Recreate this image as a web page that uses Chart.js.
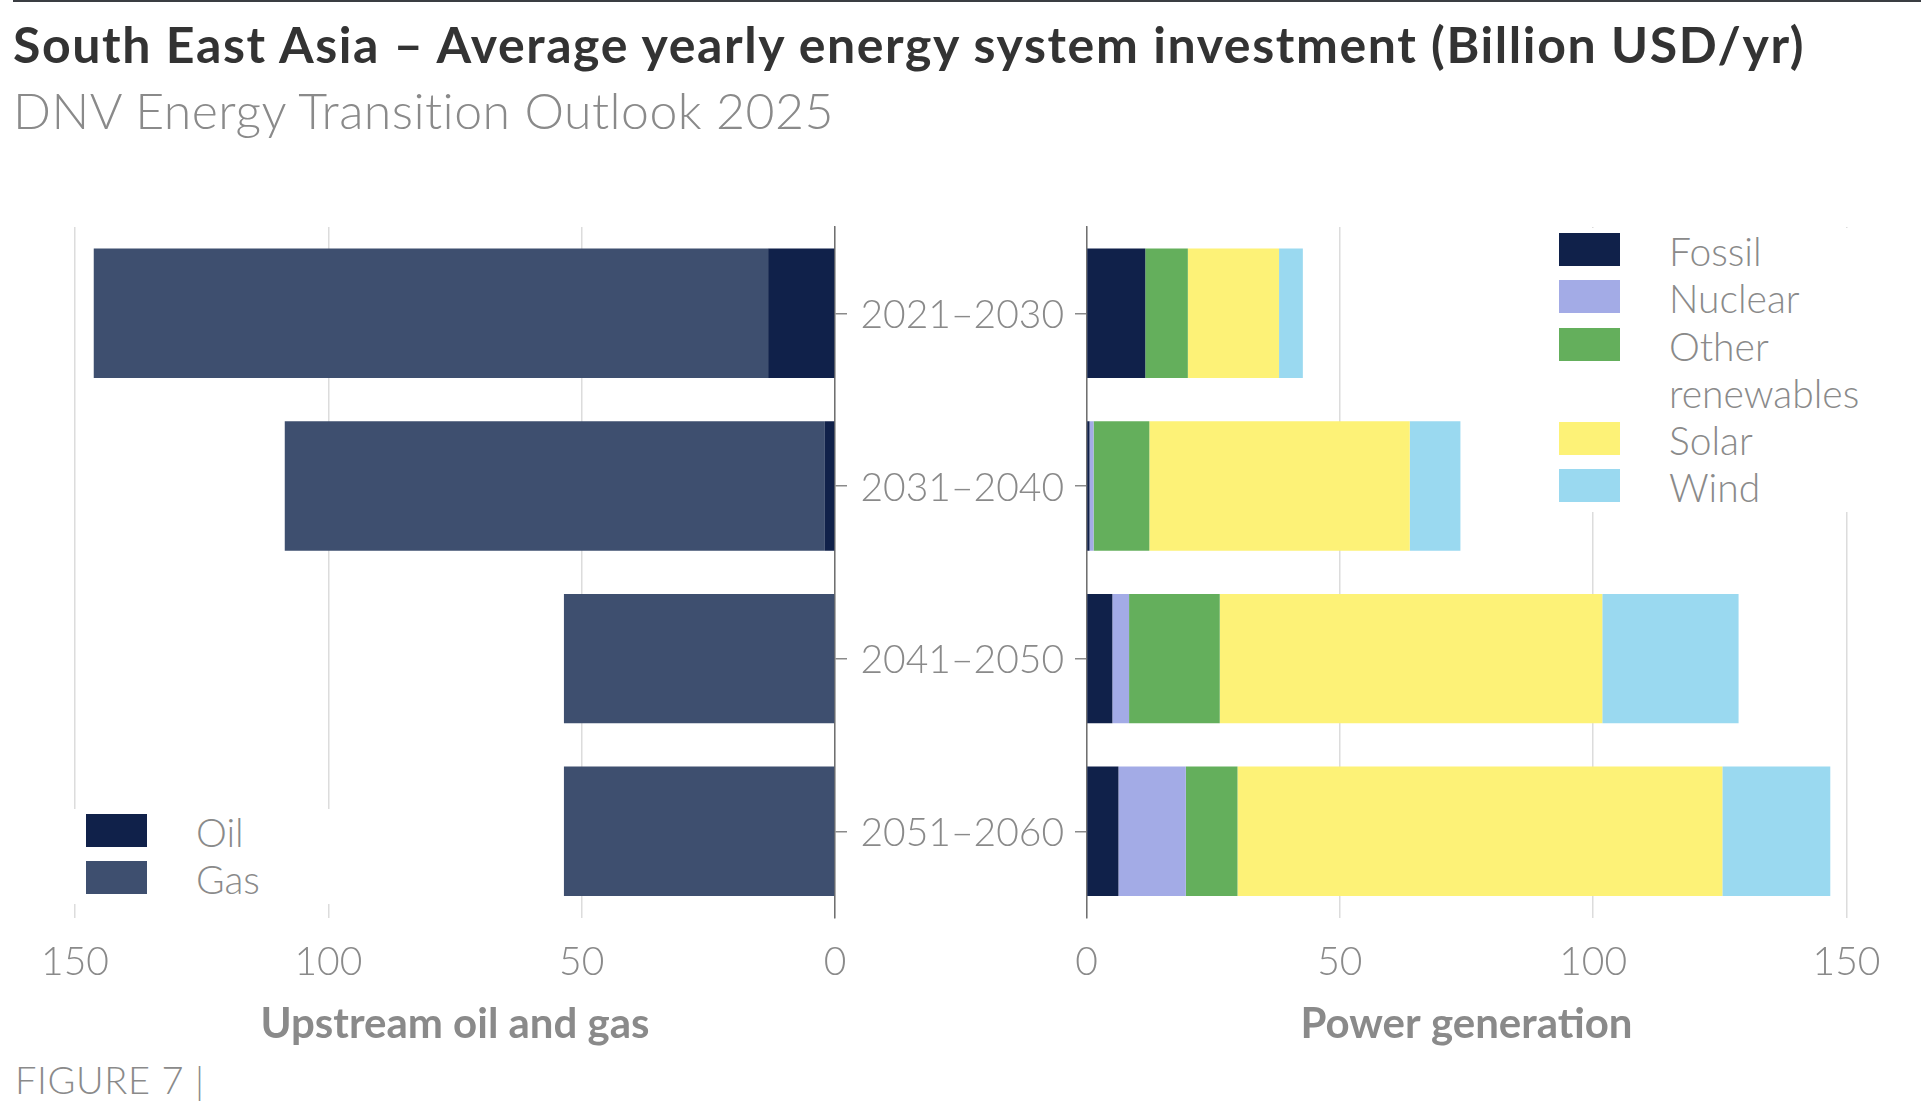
<!DOCTYPE html>
<html>
<head>
<meta charset="utf-8">
<script src="https://cdn.jsdelivr.net/npm/chart.js@4.4.1/dist/chart.umd.min.js"></script>
<style>
    html, body { margin: 0; padding: 0; background: #fff; }
    body { width: 1921px; height: 1107px; position: relative; overflow: hidden; font-family: 'Lato', 'Noto Sans', sans-serif; }
    .topline { position: absolute; left: 13px; right: 0; top: 0; height: 2px; background: #3a3d42; }
    .title { position: absolute; left: 13px; top: 19px; font-size: 50px; line-height: 50px; letter-spacing: 1.6px; font-weight: 700; color: #333; white-space: nowrap; }
    .subtitle { position: absolute; left: 13px; top: 85px; font-size: 50px; line-height: 50px; letter-spacing: 0.45px; font-weight: 300; color: #8a8a8a; white-space: nowrap; }
    .figure { position: absolute; left: 15px; top: 1060px; font-size: 38px; line-height: 38px; letter-spacing: 0.6px; font-weight: 300; color: #8a8a8a; white-space: nowrap; }
    .box { position: absolute; }
    .legend { position: absolute; background: #fff; }
    .legend .item { position: relative; padding-left: 124px; font-size: 39px; line-height: 47.3px; font-weight: 300; color: #8a8a8a; }
    .legend .sw { position: absolute; left: 14px; top: 5px; width: 61px; height: 33px; }
</style>
</head>
<body>
<div class="topline"></div>
<div class="title">South East Asia – Average yearly energy system investment (Billion USD/yr)</div>
<div class="subtitle">DNV Energy Transition Outlook 2025</div>

<div class="box" style="left:0px; top:200px; width:1075px; height:850px;"><canvas id="leftChart"></canvas></div>
<div class="box" style="left:1075px; top:200px; width:846px; height:850px;"><canvas id="rightChart"></canvas></div>

<div class="legend" id="legend-left" style="left:72px; top:809px; width:260px;"></div>
<div class="legend" id="legend-right" style="left:1545px; top:228px; width:376px; height:284px;"></div>

<div class="figure">FIGURE 7 |</div>

<script>
// Periods (y categories)
const periods = ['2021–2030', '2031–2040', '2041–2050', '2051–2060'];
const xTicks = [0, 50, 100, 150];

// Upstream oil and gas (Billion USD/yr)
const oil = [13.2, 2.0, 0, 0];
const gas = [133.1, 106.6, 53.5, 53.5];

// Power generation (Billion USD/yr)
const fossil = [11.6, 0.6, 5.1, 6.3];
const nuclear = [0, 0.8, 3.3, 13.3];
const otherRenewables = [8.4, 11.0, 17.9, 10.2];
const solar = [18.0, 51.4, 75.5, 95.7];
const wind = [4.7, 10.0, 26.9, 21.3];

const grey = '#8a8a8a';
const gridGrey = '#dcdcdc';
const axisGrey = '#707070';

const upstreamSeries = [
    { label: 'Oil', data: oil, color: '#10214a' },
    { label: 'Gas', data: gas, color: '#3e4f6f' }
];
const powerSeries = [
    { label: 'Fossil', data: fossil, color: '#10214a' },
    { label: 'Nuclear', data: nuclear, color: '#a3abe6' },
    { label: 'Other renewables', data: otherRenewables, color: '#64af5c' },
    { label: 'Solar', data: solar, color: '#fdf277' },
    { label: 'Wind', data: wind, color: '#9ad9f0' }
];

Chart.defaults.font.family = "'Lato', 'Noto Sans', sans-serif";
Chart.defaults.color = grey;
Chart.defaults.animation = false;

function toDatasets(series) {
    return series.map(s => ({
        label: s.label,
        data: s.data,
        backgroundColor: s.color,
        borderWidth: 0,
        barPercentage: 0.75,
        categoryPercentage: 1
    }));
}

function xScale(reverse, titleText) {
    return {
        type: 'linear',
        stacked: true,
        min: 0,
        max: 150,
        reverse: reverse,
        afterBuildTicks: (scale) => { scale.ticks = xTicks.map(v => ({ value: v })); },
        // fixed height so labels and title land where the original has them
        afterFit: (scale) => {
            scale.height = 132.4;
            scale.paddingLeft = 0;
            scale.paddingRight = 0;
        },
        grid: { color: gridGrey, lineWidth: 1.5, drawTicks: false },
        border: { display: false },
        ticks: { padding: 21.6, font: { size: 39, weight: 300 }, color: grey },
        title: {
            display: true,
            text: titleText,
            color: grey,
            font: { size: 42, weight: 700, lineHeight: 1.2 },
            padding: { top: 10, bottom: 0 }
        }
    };
}

function yScale(position, width, showLabels) {
    return {
        type: 'category',
        stacked: true,
        position: position,
        afterFit: (scale) => {
            scale.width = width;
            scale.paddingTop = 0;
            scale.paddingBottom = 0;
        },
        grid: { offset: false, drawOnChartArea: false, drawTicks: true, tickLength: position === 'right' ? 12 : 11.5, color: grey, lineWidth: 1.5 },
        border: { display: true, color: axisGrey, width: 1.5 },
        ticks: { display: showLabels, padding: 13.5, labelOffset: 2, font: { size: 39, weight: 300 }, color: grey }
    };
}

const commonPlugins = { legend: { display: false }, tooltip: { enabled: false } };

new Chart(document.getElementById('leftChart'), {
    type: 'bar',
    data: { labels: periods, datasets: toDatasets(upstreamSeries) },
    options: {
        indexAxis: 'y',
        responsive: true,
        maintainAspectRatio: false,
        layout: { padding: { left: 75, right: 0, top: 27, bottom: 0 } },
        scales: {
            x: xScale(true, 'Upstream oil and gas'),
            y: yScale('right', 240, true)
        },
        plugins: commonPlugins
    }
});

new Chart(document.getElementById('rightChart'), {
    type: 'bar',
    data: { labels: periods, datasets: toDatasets(powerSeries) },
    options: {
        indexAxis: 'y',
        responsive: true,
        maintainAspectRatio: false,
        layout: { padding: { left: 0, right: 74.5, top: 27, bottom: 0 } },
        scales: {
            x: xScale(false, 'Power generation'),
            y: yScale('left', 11.5, false)
        },
        plugins: commonPlugins
    }
});

// HTML legends built from the same series
function buildLegend(id, series) {
    const el = document.getElementById(id);
    series.forEach(s => {
        const item = document.createElement('div');
        item.className = 'item';
        item.innerHTML = `<span class="sw" style="background:${s.color}"></span>${s.label}`;
        el.appendChild(item);
    });
}
buildLegend('legend-left', upstreamSeries);
buildLegend('legend-right', powerSeries);
</script>
</body>
</html>
